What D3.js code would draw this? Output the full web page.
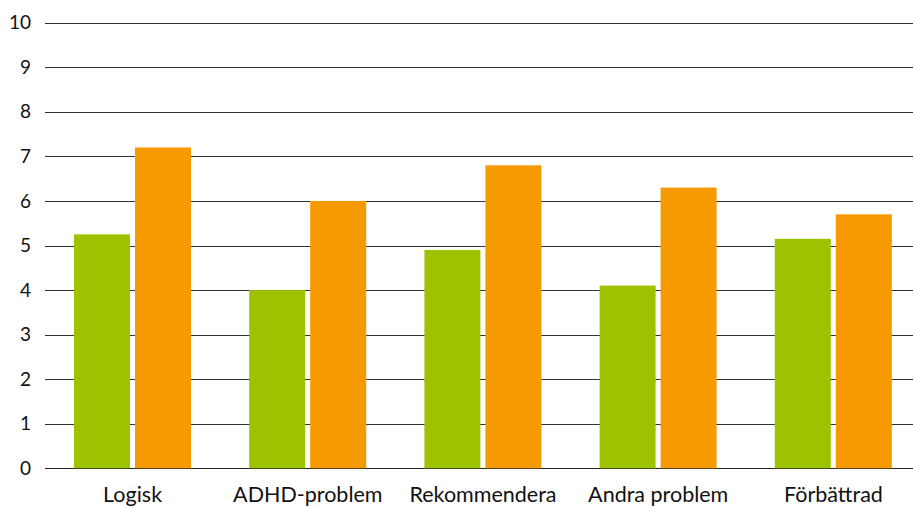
<!DOCTYPE html>
<html><head><meta charset="utf-8">
<script src="https://cdn.jsdelivr.net/npm/d3@7"></script>
<style>body{margin:0;background:#fff}svg{display:block}text{font-family:"Lato","Open Sans",sans-serif;fill:#111}</style>
</head><body><svg id="c" width="913" height="508"></svg>
<script>
const categories = ["Logisk","ADHD-problem","Rekommendera","Andra problem","Förbättrad"];
const seriesA = [5.25,4.0,4.9,4.1,5.15];
const seriesB = [7.2,6.0,6.8,6.3,5.7];
const yTicks = [0,1,2,3,4,5,6,7,8,9,10];
const colors = ["#9dc300","#f59a00"];

(function(){
const svg = d3.select("#c");
const mLeft = 45, mRight = 921, mTop = 22.7, mBottom = 468.3;
const x = d3.scaleBand().domain(categories).range([mLeft,mRight]).paddingInner(0).paddingOuter(0);
const y = d3.scaleLinear().domain([0,10]).range([mBottom,mTop]);

svg.append("g").selectAll("line").data(yTicks).join("line")
  .attr("x1",mLeft).attr("x2",913)
  .attr("y1",d=>Math.round(y(d))+0.5).attr("y2",d=>Math.round(y(d))+0.5)
  .attr("stroke",d=>d===0?"#222":"#333").attr("stroke-width",1.2);

const yAxis = d3.axisLeft(y).tickValues(yTicks).tickSize(0).tickPadding(14);
const ga = svg.append("g").attr("transform",`translate(${mLeft},0)`).call(yAxis);
ga.select(".domain").remove();
ga.selectAll("text").attr("font-size",19).style("font-family","Lato, sans-serif").attr("fill","#111");

const pad = 29/175.2, bw = 56/175.2, gap = 5/175.2;
const data = categories.map((c,i)=>({c,a:seriesA[i],b:seriesB[i]}));
const gb = svg.append("g");
data.forEach(d=>{
  const x0 = x(d.c), w = x.bandwidth();
  gb.append("rect").attr("x",x0+pad*w).attr("width",bw*w)
    .attr("y",y(d.a)).attr("height",y(0)-y(d.a)).attr("fill",colors[0]);
  gb.append("rect").attr("x",x0+(pad+bw+gap)*w).attr("width",bw*w)
    .attr("y",y(d.b)).attr("height",y(0)-y(d.b)).attr("fill",colors[1]);
});

const xAxis = d3.axisBottom(x).tickSize(0).tickPadding(18);
const gx = svg.append("g").attr("transform",`translate(0,${mBottom})`).call(xAxis);
gx.select(".domain").remove();
gx.selectAll("text").attr("font-size",21.5).style("font-family","Lato, sans-serif").attr("fill","#111");
})();
</script></body></html>
